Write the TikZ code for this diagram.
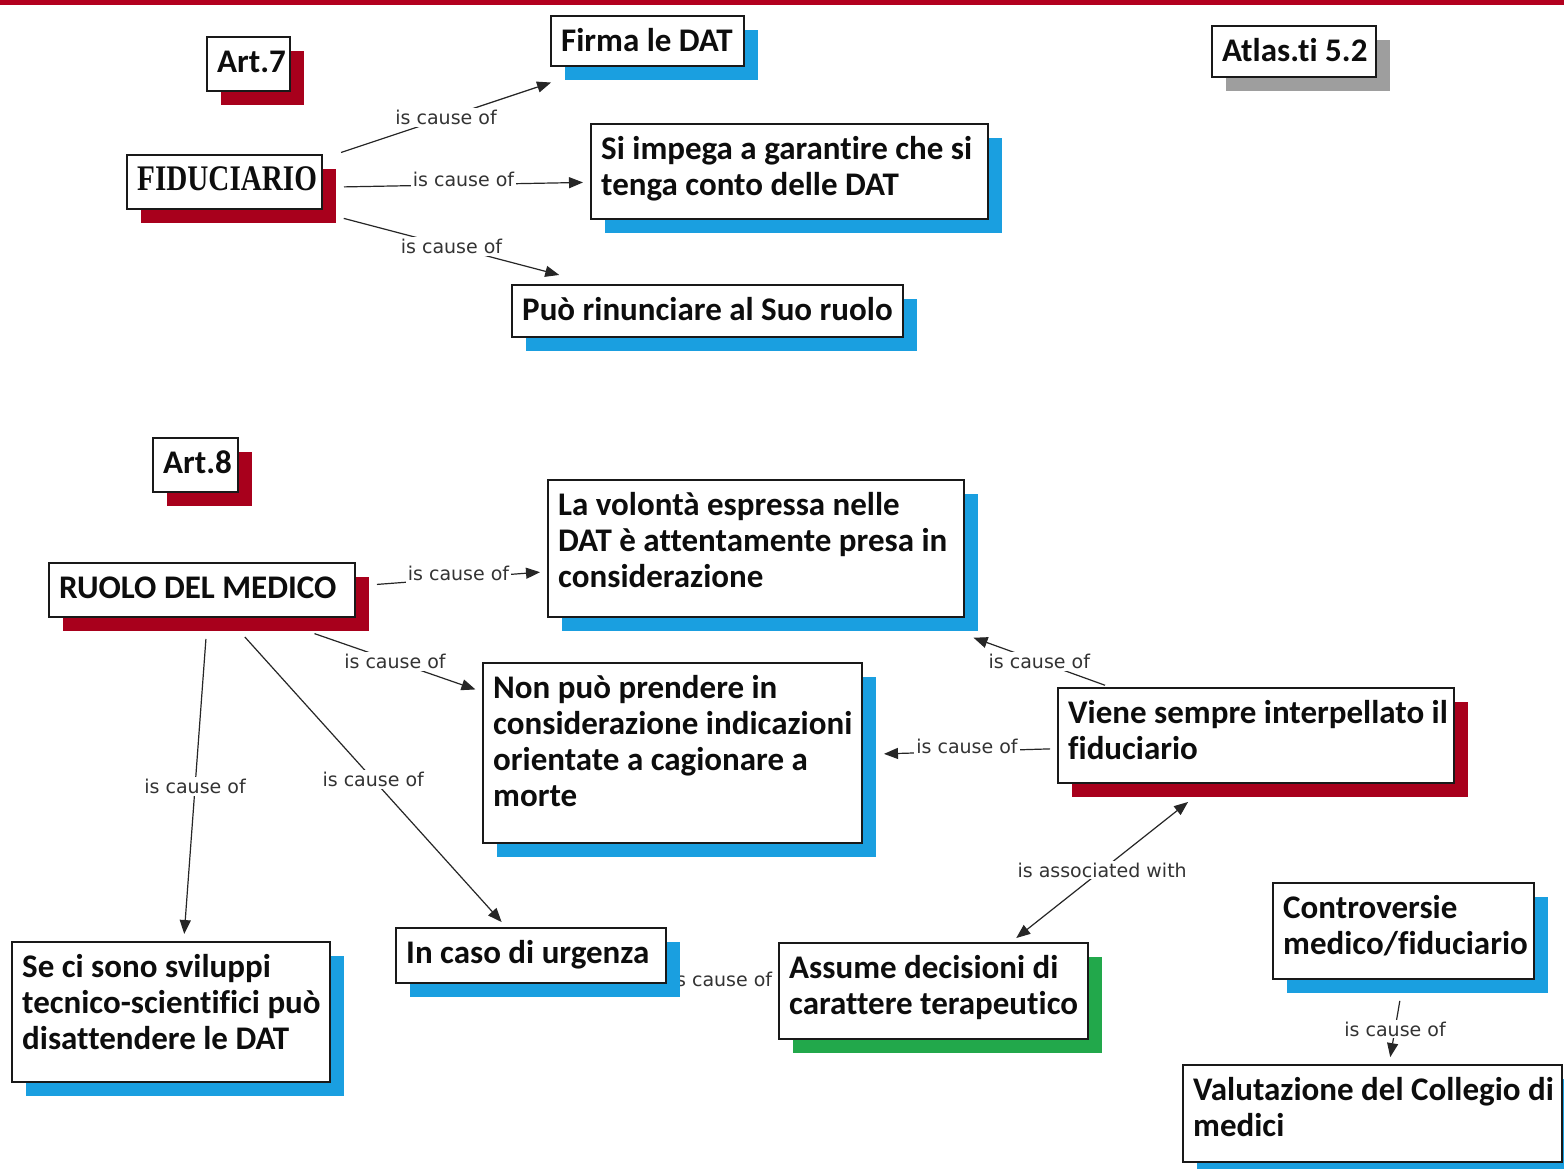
\documentclass[tikz,border=0pt]{standalone}
\usepackage{fontspec}
\setmainfont{Carlito}[Ligatures=CommonOff]
\newfontfamily\lblfont{DejaVu Sans}
\newfontfamily\fidfont{Liberation Serif}
\usetikzlibrary{arrows.meta,fit}
\pgfdeclarelayer{back}
\pgfdeclarelayer{background}
\pgfsetlayers{back,background,main}
\definecolor{shred}{HTML}{A8001C}
\definecolor{shblue}{HTML}{1A9FE0}
\definecolor{shgreen}{HTML}{22A84B}
\definecolor{shgrey}{HTML}{9E9E9E}
\definecolor{topred}{HTML}{B3001F}
\tikzset{
  hit/.style={rectangle, inner sep=0pt, outer sep=0pt, draw=none},
  boxline/.style={draw=black!90, line width=1.6pt, fill=white},
  boxtext/.style={font=\bfseries\fontsize{33}{36}\selectfont, align=left, inner sep=0pt, text=black!95},
  conn/.style={draw=black!85, line width=1.2pt, -{Triangle[length=14pt,width=11pt]}, shorten >=8pt, shorten <=8pt},
  conntwo/.style={conn, {Triangle[length=14pt,width=11pt]}-{Triangle[length=14pt,width=11pt]}},
  lbl/.style={font=\lblfont\fontsize{19}{22}\selectfont, text=black!80, fill=white, inner sep=2pt},
}
% name, left, top, right, bottom, shadow colour, text options, text
\newcommand\cmapbox[8]{%
  \node[hit, fit={(#2,#3) ([xshift=14pt,yshift=-14pt]#4,#5)}] (#1) {};
  \fill[#6] ([xshift=14pt,yshift=-14pt]#2,#3) rectangle ([xshift=14pt,yshift=-14pt]#4,#5);
  \draw[boxline] (#2,#3) rectangle (#4,#5);
  \node[boxtext, anchor=north west, #7] (#1-t) at ([xshift=10pt,yshift=-8pt]#2,#3) {\rule{0pt}{27pt}#8};
}
\begin{document}
\begin{tikzpicture}[x=1pt,y=-1pt]
\useasboundingbox (0,0) rectangle (1564,1169);
\begin{pgfonlayer}{back}
\fill[white] (0,0) rectangle (1564,1169);
\fill[topred] (0,0) rectangle (1564,5);
\end{pgfonlayer}

\cmapbox{art7}{207}{37}{290}{91}{shred}{}{Art.7}
\cmapbox{firma}{551}{16}{744}{66}{shblue}{}{Firma le DAT}
\cmapbox{atlas}{1212}{26}{1376}{77}{shgrey}{}{Atlas.ti 5.2}
\cmapbox{fid}{127}{155}{322}{209}{shred}{}{{\fidfont\bfseries\fontsize{36}{36}\selectfont\scalebox{0.81}[1]{FIDUCIARIO}}}
\cmapbox{impega}{591}{124}{988}{219}{shblue}{}{Si impega a garantire che si\\tenga conto delle DAT}
\cmapbox{puo}{512}{285}{903}{337}{shblue}{}{Può rinunciare al Suo ruolo}
\cmapbox{art8}{153}{438}{238}{492}{shred}{}{Art.8}
\cmapbox{ruolo}{49}{563}{355}{617}{shred}{}{RUOLO DEL MEDICO}
\cmapbox{volonta}{548}{480}{964}{617}{shblue}{}{La volontà espressa nelle\\DAT è attentamente presa in\\considerazione}
\cmapbox{nonpuo}{483}{663}{862}{843}{shblue}{}{Non può prendere in\\considerazione indicazioni\\orientate a cagionare a\\morte}
\cmapbox{viene}{1058}{688}{1454}{783}{shred}{}{Viene sempre interpellato il\\fiduciario}
\cmapbox{seci}{12}{942}{330}{1082}{shblue}{}{Se ci sono sviluppi\\tecnico-scientifici può\\disattendere le DAT}
\cmapbox{urg}{396}{928}{666}{983}{shblue}{}{In caso di urgenza}
\cmapbox{assume}{779}{943}{1088}{1039}{shgreen}{}{Assume decisioni di\\carattere terapeutico}
\cmapbox{contro}{1273}{883}{1534}{979}{shblue}{}{Controversie\\medico/fiduciario}
\cmapbox{valut}{1183}{1065}{1562}{1162}{shblue}{}{Valutazione del Collegio di\\medici}

\begin{pgfonlayer}{background}
\draw[conn] (fid) -- node[lbl]{is cause of} (firma);
\draw[conn] (fid) -- node[lbl, yshift=5pt]{is cause of} (impega);
\draw[conn] (fid) -- node[lbl]{is cause of} ([xshift=55pt,yshift=8pt]puo.north west);
\draw[conn] (ruolo) -- node[lbl, yshift=5pt]{is cause of} (volonta);
\draw[conn] (ruolo) -- node[lbl]{is cause of} (nonpuo);
\draw[conn] (ruolo) -- node[lbl]{is cause of} (seci);
\draw[conn] (ruolo) -- node[lbl]{is cause of} (urg);
\draw[conn] (viene) -- node[lbl]{is cause of} ([xshift=-12pt,yshift=-4pt]volonta.south east);
\draw[conn] (viene) -- node[lbl, yshift=5pt]{is cause of} (nonpuo);
\draw[conn] (urg) -- node[lbl, xshift=-8pt, inner sep=3pt]{is cause of} (assume);
\draw[conntwo] (assume) -- node[lbl]{is associated with} (viene);
\draw[conn] (contro) -- node[lbl]{is cause of} (valut);
\end{pgfonlayer}
\end{tikzpicture}
\end{document}
